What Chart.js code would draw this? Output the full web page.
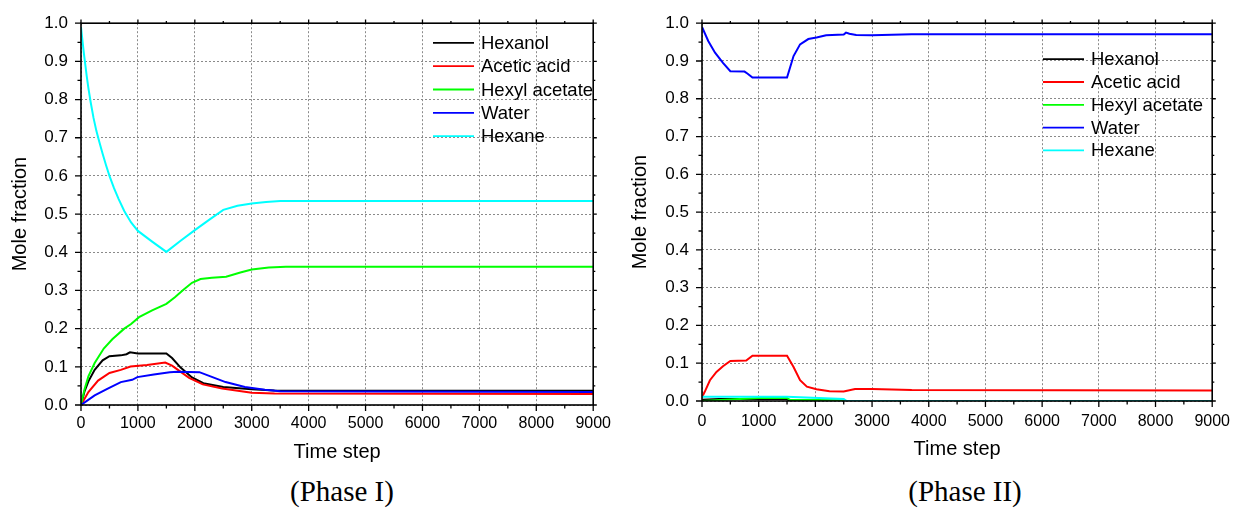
<!DOCTYPE html>
<html>
<head>
<meta charset="utf-8">
<script src="https://cdn.jsdelivr.net/npm/chart.js@4.4.0/dist/chart.umd.min.js"></script>
<style>
body { margin: 0; background: #fff; width: 1241px; height: 516px; position: relative; overflow: hidden; }
.box { position: absolute; top: 0; height: 470px; }
#box1 { left: 0; width: 620px; }
#box2 { left: 620px; width: 621px; }
.phase { position: absolute; top: 475px; font-family: "Liberation Serif", "Times New Roman", serif; font-size: 29px; transform: translateX(-50%); white-space: nowrap; color: #000; }
</style>
</head>
<body>
<div class="box" id="box1"><canvas id="phase1"></canvas></div>
<div class="box" id="box2"><canvas id="phase2"></canvas></div>
<div class="phase" style="left:342px">(Phase I)</div>
<div class="phase" style="left:965px">(Phase II)</div>
<script>
/* --- DATA --- */

const seriesNames = ['Hexanol', 'Acetic acid', 'Hexyl acetate', 'Water', 'Hexane'];
const seriesColors = ['#000000', '#ff0000', '#00ff00', '#0000ff', '#00ffff'];
const xTickValues = [0, 1000, 2000, 3000, 4000, 5000, 6000, 7000, 8000, 9000];
const yTickValues = [0, 0.1, 0.2, 0.3, 0.4, 0.5, 0.6, 0.7, 0.8, 0.9, 1.0];

// Phase I (time step / mole fraction pairs)
const p1HexanolT = [0, 60, 130, 240, 380, 500, 700, 800, 860, 1000, 1500, 1600, 1750, 1950, 2150, 2500, 3000, 3400, 9000];
const p1HexanolY = [0, 0.035, 0.062, 0.092, 0.117, 0.128, 0.13, 0.133, 0.138, 0.135, 0.135, 0.123, 0.098, 0.072, 0.057, 0.047, 0.041, 0.038, 0.037];

const p1AceticT = [0, 130, 300, 500, 700, 870, 1160, 1480, 1600, 1740, 1900, 2140, 2480, 3000, 3400, 9000];
const p1AceticY = [0, 0.034, 0.064, 0.084, 0.092, 0.101, 0.105, 0.111, 0.103, 0.088, 0.071, 0.054, 0.043, 0.032, 0.03, 0.029];

const p1HexylT = [0, 60, 130, 240, 400, 550, 760, 880, 1020, 1250, 1500, 1650, 1800, 1950, 2100, 2300, 2550, 2800, 3000, 3300, 3600, 9000];
const p1HexylY = [0, 0.04, 0.075, 0.11, 0.148, 0.172, 0.2, 0.212, 0.23, 0.248, 0.265, 0.282, 0.302, 0.32, 0.33, 0.333, 0.336, 0.347, 0.355, 0.36, 0.362, 0.362];

const p1WaterT = [0, 240, 470, 700, 900, 990, 1280, 1560, 1700, 2080, 2310, 2540, 2880, 3230, 3500, 9000];
const p1WaterY = [0, 0.025, 0.043, 0.06, 0.066, 0.073, 0.08, 0.086, 0.087, 0.086, 0.073, 0.06, 0.047, 0.04, 0.036, 0.034];

const p1HexaneT = [0, 20, 40, 60, 80, 100, 130, 170, 220, 270, 320, 380, 440, 500, 580, 660, 760, 880, 1000, 1250, 1500, 1750, 2000, 2250, 2500, 2750, 3000, 3250, 3500, 9000];
const p1HexaneY = [0.99, 0.962, 0.935, 0.91, 0.886, 0.862, 0.83, 0.793, 0.752, 0.718, 0.69, 0.658, 0.628, 0.6, 0.568, 0.54, 0.508, 0.478, 0.456, 0.428, 0.401, 0.43, 0.458, 0.485, 0.511, 0.522, 0.528, 0.532, 0.534, 0.534];

// Phase II
const p2HexanolT = [0, 300, 1500, 1550, 9000];
const p2HexanolY = [0.003, 0.005, 0.005, 0, 0];

const p2AceticT = [0, 50, 140, 255, 370, 500, 780, 890, 1500, 1615, 1730, 1850, 2020, 2250, 2500, 2700, 3000, 3700, 9000];
const p2AceticY = [0.01, 0.025, 0.055, 0.077, 0.092, 0.106, 0.107, 0.12, 0.12, 0.09, 0.055, 0.038, 0.031, 0.026, 0.025, 0.032, 0.032, 0.029, 0.028];

const p2HexylT = [0, 500, 1000, 1500, 1550, 2500, 2550, 9000];
const p2HexylY = [0, 0.004, 0.008, 0.008, 0.003, 0.002, 0, 0];

const p2WaterT = [0, 110, 230, 370, 500, 750, 800, 890, 1500, 1615, 1730, 1875, 2020, 2190, 2500, 2540, 2600, 2720, 3000, 3700, 9000];
const p2WaterY = [0.99, 0.953, 0.922, 0.895, 0.873, 0.872, 0.867, 0.856, 0.856, 0.913, 0.944, 0.958, 0.962, 0.968, 0.97, 0.975, 0.972, 0.969, 0.968, 0.971, 0.971];

const p2HexaneT = [0, 1500, 2500, 2550, 9000];
const p2HexaneY = [0.011, 0.011, 0.005, 0, 0];

/* --- HELPERS --- */

const sans = '"Liberation Sans", Arial, sans-serif';

function toPoints(t, y) {
    return t.map((x, i) => ({ x: x, y: y[i] }));
}

function buildDatasets(pairs) {
    return pairs.map((p, i) => ({
        label: seriesNames[i],
        data: toPoints(p[0], p[1]),
        borderColor: seriesColors[i],
        backgroundColor: seriesColors[i],
        borderWidth: 2,
        pointRadius: 0,
        tension: 0,
        order: seriesNames.length - i // last series drawn on top
    }));
}

// Legend with short line samples inside the plot
const lineLegend = {
    id: 'lineLegend',
    afterDatasetsDraw(chart, args, o) {
        const { ctx, chartArea } = chart;
        ctx.save();
        ctx.font = '18.5px ' + sans;
        ctx.textBaseline = 'middle';
        ctx.fillStyle = '#000';
        chart.data.datasets.forEach((ds, i) => {
            const x = chartArea.left + o.left;
            const y = chartArea.top + o.top + i * o.gap;
            ctx.strokeStyle = ds.borderColor;
            ctx.lineWidth = 1.8;
            ctx.beginPath();
            ctx.moveTo(x, y);
            ctx.lineTo(x + 41, y);
            ctx.stroke();
            ctx.fillText(ds.label, x + 48, y + 1);
        });
        ctx.restore();
    }
};

// Box frame with major/minor tick marks on all four sides
const frameTicks = {
    id: 'frameTicks',
    afterDraw(chart) {
        const { ctx, chartArea: { left, right, top, bottom }, scales: { x, y } } = chart;
        ctx.save();
        ctx.strokeStyle = '#000';
        ctx.lineWidth = 1.6;
        ctx.strokeRect(left, top, right - left, bottom - top);
        ctx.lineWidth = 1.3;
        ctx.beginPath();
        for (let k = 0; k <= 18; k++) {
            const px = x.getPixelForValue(k * 500);
            const len = k % 2 === 0 ? 6 : 3.5;
            ctx.moveTo(px, bottom); ctx.lineTo(px, bottom + len);
            ctx.moveTo(px, top); ctx.lineTo(px, top - len * 0.6);
        }
        for (let k = 0; k <= 20; k++) {
            const py = y.getPixelForValue(k * 0.05);
            const len = k % 2 === 0 ? 6 : 3.5;
            ctx.moveTo(left, py); ctx.lineTo(left - len, py);
            ctx.moveTo(right, py); ctx.lineTo(right + len * 0.6, py);
        }
        ctx.stroke();
        ctx.restore();
    }
};

function makeChart(id, datasets, cfg) {
    const ctx = document.getElementById(id).getContext('2d');
    return new Chart(ctx, {
        type: 'line',
        data: { datasets: datasets },
        options: {
            responsive: true,
            maintainAspectRatio: false,
            animation: false,
            layout: { padding: { top: 22, right: cfg.padRight, left: 0, bottom: 0 } },
            plugins: {
                legend: { display: false },
                tooltip: { enabled: false },
                lineLegend: { left: cfg.legendLeft, top: cfg.legendTop, gap: cfg.legendGap }
            },
            scales: {
                x: {
                    type: 'linear',
                    min: 0,
                    max: 9000,
                    afterBuildTicks: (axis) => { axis.ticks = xTickValues.map(v => ({ value: v })); },
                    afterFit: (axis) => { axis.height = cfg.xAxisHeight; },
                    ticks: {
                        autoSkip: false,
                        maxRotation: 0,
                        padding: cfg.xTickPad,
                        color: '#000',
                        font: { family: sans, size: 16 },
                        callback: (v) => String(v)
                    },
                    grid: { color: '#8a8a8a', lineWidth: 1, drawTicks: false },
                    border: { display: false, dash: [2, 2] },
                    title: {
                        display: true,
                        text: 'Time step',
                        color: '#000',
                        font: { family: sans, size: 20 },
                        padding: { top: 0, bottom: cfg.xTitlePad }
                    }
                },
                y: {
                    type: 'linear',
                    min: 0,
                    max: 1,
                    afterBuildTicks: (axis) => { axis.ticks = yTickValues.map(v => ({ value: v })); },
                    afterFit: (axis) => { axis.width = cfg.yAxisWidth; },
                    ticks: {
                        padding: 13,
                        color: '#000',
                        font: { family: sans, size: 17 },
                        callback: (v) => v.toFixed(1)
                    },
                    grid: { color: '#8a8a8a', lineWidth: 1, drawTicks: false },
                    border: { display: false, dash: [2, 2] },
                    title: {
                        display: true,
                        text: 'Mole fraction',
                        color: '#000',
                        font: { family: sans, size: 20 },
                        padding: { top: 8, bottom: 0 }
                    }
                }
            }
        },
        plugins: [lineLegend, frameTicks]
    });
}

makeChart('phase1', buildDatasets([
    [p1HexanolT, p1HexanolY],
    [p1AceticT, p1AceticY],
    [p1HexylT, p1HexylY],
    [p1WaterT, p1WaterY],
    [p1HexaneT, p1HexaneY]
]), { padRight: 17, yAxisWidth: 81, xAxisHeight: 65, xTickPad: 9, xTitlePad: 6, legendLeft: 352, legendTop: 19.7, legendGap: 23.3 });

makeChart('phase2', buildDatasets([
    [p2HexanolT, p2HexanolY],
    [p2AceticT, p2AceticY],
    [p2HexylT, p2HexylY],
    [p2WaterT, p2WaterY],
    [p2HexaneT, p2HexaneY]
]), { padRight: 21, yAxisWidth: 82, xAxisHeight: 69, xTickPad: 11, xTitlePad: 9, legendLeft: 341, legendTop: 36, legendGap: 22.8 });
</script>
</body>
</html>
